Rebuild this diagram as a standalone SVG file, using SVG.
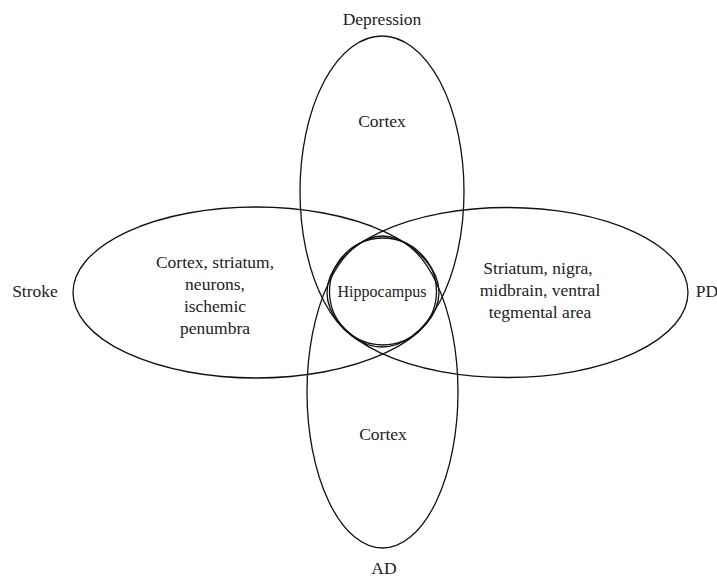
<svg xmlns="http://www.w3.org/2000/svg" width="717" height="577" viewBox="0 0 717 577">
<style>
.set{fill:none;stroke:#111;stroke-width:1.3}
text{font-family:"Liberation Serif","Times New Roman",serif;font-size:17.5px;fill:#222;text-anchor:middle}
.small{font-size:16px}
</style>
<rect width="717" height="577" fill="#fff"/>
<g id="depression">
<ellipse class="set" cx="382" cy="191.5" rx="82" ry="155.5"/>
<text x="382" y="25">Depression</text>
<text x="382" y="127">Cortex</text>
</g>
<g id="ad">
<ellipse class="set" cx="382.5" cy="392" rx="75.5" ry="156"/>
<text x="383" y="440">Cortex</text>
<text x="384" y="574">AD</text>
</g>
<g id="stroke">
<ellipse class="set" cx="256" cy="292.5" rx="183" ry="85.5"/>
<text x="35" y="297">Stroke</text>
<text x="215" y="268">Cortex, striatum,</text>
<text x="215" y="290">neurons,</text>
<text x="215" y="312">ischemic</text>
<text x="215" y="334">penumbra</text>
</g>
<g id="pd">
<ellipse class="set" cx="507.5" cy="292.5" rx="180.5" ry="85"/>
<text x="707" y="297">PD</text>
<text x="538" y="274">Striatum, nigra,</text>
<text x="540" y="296">midbrain, ventral</text>
<text x="540" y="318">tegmental area</text>
</g>
<g id="hippocampus">
<circle class="set" cx="383" cy="291.5" r="53.5"/>
<text class="small" x="382" y="297">Hippocampus</text>
</g>
<g id="connectors"></g>
</svg>
